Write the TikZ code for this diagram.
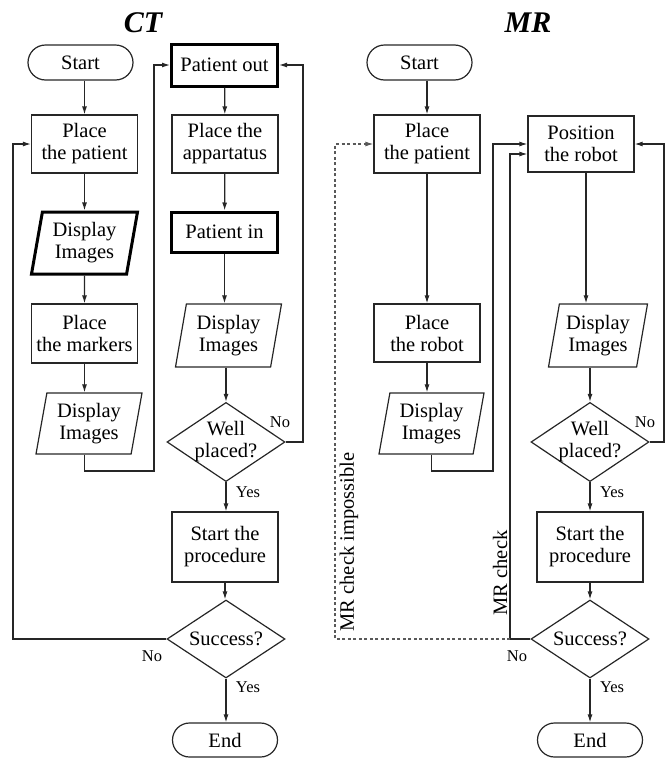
\documentclass[tikz,border=0pt]{standalone}
\usepackage{fontspec}
\setmainfont{Liberation Serif}
\usetikzlibrary{shapes.geometric,shapes.misc,arrows.meta,calc}
\begin{document}
\begin{tikzpicture}[x=1pt,y=-1pt,
  txt/.style={font=\fontsize{20.5}{22}\selectfont, align=center},
  lbl/.style={font=\fontsize{16.5}{18}\selectfont, inner sep=0pt},
  ttl/.style={font=\fontsize{30}{32}\selectfont\bfseries\itshape, inner sep=0pt},
  base/.style={txt, draw=black!85, line width=1.2pt, inner sep=1pt},
  procbox/.style={base, rectangle, minimum width=106, minimum height=58},
  thickbox/.style={procbox, line width=3pt, draw=black},
  term/.style={base, rounded rectangle, minimum width=107, minimum height=35},
  para/.style={base, trapezium, trapezium left angle=75, trapezium right angle=105,
    trapezium stretches body, minimum width=106, minimum height=62, inner sep=0pt},
  dia/.style={base, diamond, minimum width=118, minimum height=78, inner sep=-6pt},
  arr/.style={draw=black!85, line width=1.2pt, -{Latex[length=8pt,width=5pt]}},
  dsh/.style={arr, draw=black!65, dash pattern=on 3pt off 2.5pt}
]
\useasboundingbox (0,0) rectangle (667,758);

% titles
\node[ttl] (tCT) at (143,22.5) {CT};
\node[ttl] (tMR) at (528,22.5) {MR};

% ---------------- CT ----------------
\node[term] (startL) at (80.5,62.5) {Start};
\node[procbox] (ppL) at (84.5,144) {Place\\the patient};
\node[para, line width=3pt, draw=black] (dispL1) at (84.5,243) {Display\\Images};
\node[procbox, minimum height=59] (markers) at (84.5,333.5) {Place\\the markers};
\node[para, minimum height=61] (dispL2) at (89,423.5) {Display\\Images};

\node[thickbox, minimum height=42] (pout) at (224.5,65) {Patient out};
\node[procbox] (app) at (225,144) {Place the\\appartatus};
\node[thickbox, minimum height=40] (pin) at (224.5,232) {Patient in};
\node[para, minimum height=63] (dispC) at (228.5,335.5) {Display\\Images};
\node[dia] (wpL) at (226,442) {Well\\placed?};
\node[procbox, minimum height=70] (procL) at (225,547) {Start the\\procedure};
\node[dia] (sucL) at (226,639) {Success?};
\node[term, minimum height=34] (endL) at (225,740) {End};

\draw[arr] (ppL.north |- startL.south) -- (ppL.north);
\draw[arr] (ppL) -- (dispL1);
\draw[arr] (dispL1) -- (markers);
\draw[arr] (markers.south) -- (markers.south |- dispL2.north);
\coordinate (cA) at (154,471);
\draw[arr] (dispL2.south -| markers.south) |- (cA) |- (pout.west);
\draw[arr] (pout) -- (app);
\draw[arr] (app) -- (pin);
\draw[arr] (pin.south) -- (pin.south |- dispC.north);
\draw[arr] (wpL.north |- dispC.south) -- (wpL.north);
\coordinate (cB) at (303,442);
\draw[arr] (wpL.east) -| (cB) |- (pout.east);
\draw[arr] (wpL.south) -- (wpL.south |- procL.north);
\draw[arr] (procL.south) -- (procL.south |- sucL.north);
\draw[arr] (sucL.south) -- (sucL.south |- endL.north);
\coordinate (cL) at (13,639);
\draw[arr] (sucL.west) -| (cL) |- (ppL.west);

\node[lbl] (noL1) at (280,422) {No};
\node[lbl] (yesL1) at (248,492) {Yes};
\node[lbl] (noL2) at (152,656) {No};
\node[lbl] (yesL2) at (248,687) {Yes};

% ---------------- MR ----------------
\node[term] (startR) at (419.5,62.5) {Start};
\node[procbox] (ppR) at (427,144) {Place\\the patient};
\node[procbox] (robotR) at (427,333) {Place\\the robot};
\node[para, minimum height=61, minimum width=105] (dispR1) at (431.5,423.5) {Display\\Images};

\node[procbox, minimum height=56] (pos) at (581,144) {Position\\the robot};
\node[para, minimum height=63, minimum width=99] (dispR2) at (598,335.5) {Display\\Images};
\node[dia] (wpR) at (590,442) {Well\\placed?};
\node[procbox, minimum height=70] (procR) at (590,547) {Start the\\procedure};
\node[dia] (sucR) at (590,639) {Success?};
\node[term, minimum height=34] (endR) at (590,740) {End};

\draw[arr] (ppR.north |- startR.south) -- (ppR.north);
\draw[arr] (ppR) -- (robotR);
\draw[arr] (robotR.south) -- (robotR.south |- dispR1.north);
\coordinate (cC) at (493,471);
\draw[arr] (dispR1.south) |- (cC) |- (pos.west);
\coordinate (pa) at ([xshift=5pt]pos.south);
\draw[arr] (pa) -- (pa |- dispR2.north);
\draw[arr] (wpR.north |- dispR2.south) -- (wpR.north);
\coordinate (cF) at (664,442);
\draw[arr] (wpR.east) -| (cF) |- (pos.east);
\draw[arr] (wpR.south) -- (procR.north);
\draw[arr] (procR.south) -- (sucR.north);
\draw[arr] (sucR.south) -- (endR.north);
\coordinate (cD) at (510,639);
\coordinate (pw2) at ([yshift=-10pt]pos.west);
\draw[arr] (sucR.west) -| (cD) |- (pw2);
\coordinate (cE) at (335,639);
\draw[dsh] (cD) -- (cE) |- (ppR.west);

\node[txt, rotate=90, inner sep=0pt] (mrc) at (500,573) {MR check};
\node[txt, rotate=90, inner sep=0pt] (mrci) at (349,542) {MR check impossible};

\node[lbl] (noR1) at (645,422) {No};
\node[lbl] (yesR1) at (612,492) {Yes};
\node[lbl] (noR2) at (517,656) {No};
\node[lbl] (yesR2) at (612,687) {Yes};
\end{tikzpicture}
\end{document}
